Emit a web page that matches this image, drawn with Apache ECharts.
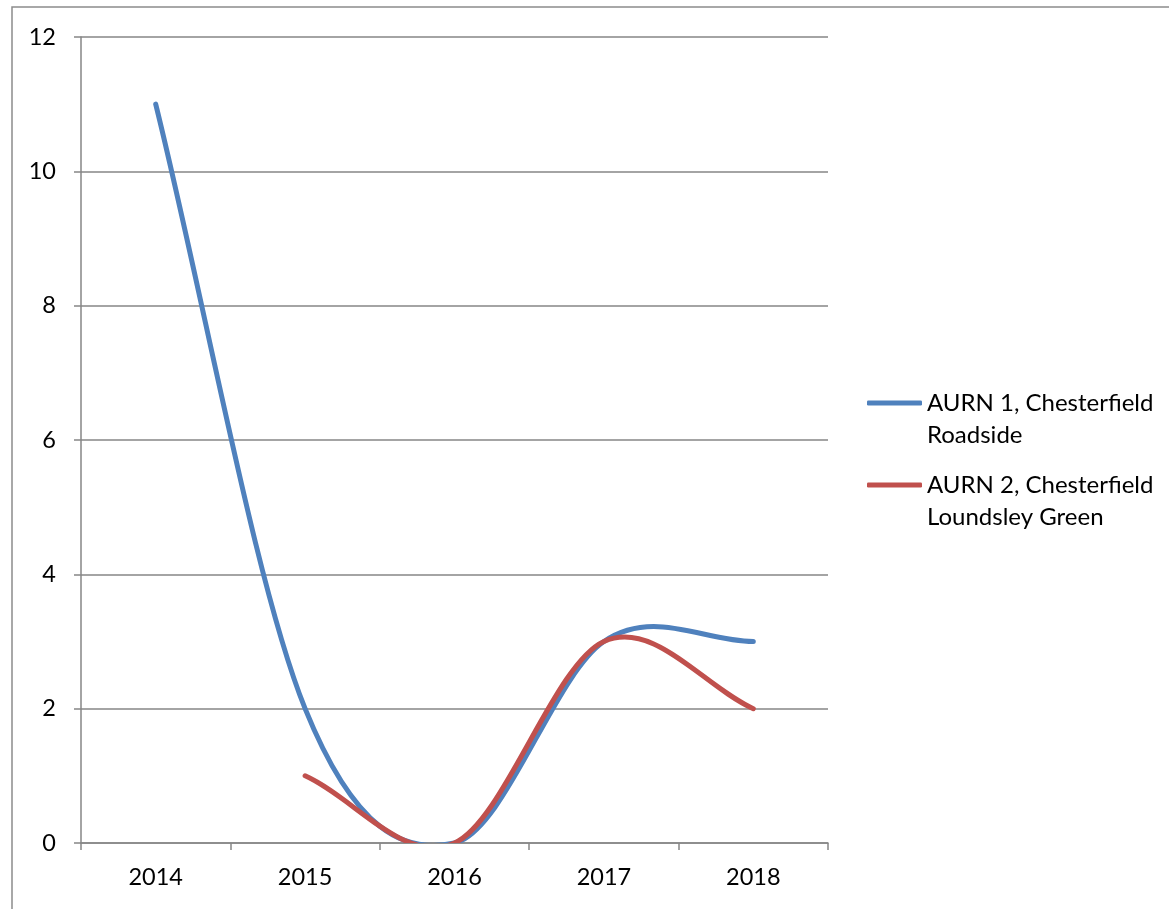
<!DOCTYPE html>
<html>
<head>
<meta charset="utf-8">
<script src="https://cdn.jsdelivr.net/npm/echarts@6/dist/echarts.min.js"></script>
<style>html,body{margin:0;padding:0;background:#fff}#c{width:1169px;height:909px}</style>
</head>
<body>
<div id="c"></div>
<script>
const years = ['2014', '2015', '2016', '2017', '2018'];
const aurn1 = [11, 2, 0, 3, 3];
const aurn2 = [null, 1, 0, 3, 2];
const name1 = 'AURN 1, Chesterfield\nRoadside';
const name2 = 'AURN 2, Chesterfield\nLoundsley Green';
const yTicks = { min: 0, max: 12, interval: 2 };

const font = 'Lato, "Liberation Sans", sans-serif';
const chart = echarts.init(document.getElementById('c'));

// Excel-style smoothed line (Catmull-Rom -> cubic Bezier) through the library's coordinate system
function smoothRenderer(values, color) {
  const valid = values.map((v, i) => v == null ? -1 : i).filter(i => i >= 0);
  return function (params, api) {
    if (params.dataIndex !== valid[0]) return null;
    const P = valid.map(i => api.coord([i, values[i]]));
    let d = 'M' + P[0][0] + ' ' + P[0][1];
    for (let k = 0; k < P.length - 1; k++) {
      const a = P[k], b = P[k + 1];
      let c1, c2;
      if (k > 0) { const p = P[k - 1]; c1 = [a[0] + (b[0] - p[0]) / 6, a[1] + (b[1] - p[1]) / 6]; }
      else { c1 = [a[0] + (b[0] - a[0]) / 3, a[1] + (b[1] - a[1]) / 3]; }
      if (k + 2 < P.length) { const n = P[k + 2]; c2 = [b[0] - (n[0] - a[0]) / 6, b[1] - (n[1] - a[1]) / 6]; }
      else { c2 = [b[0] - (b[0] - a[0]) / 3, b[1] - (b[1] - a[1]) / 3]; }
      d += ' C' + c1[0] + ' ' + c1[1] + ' ' + c2[0] + ' ' + c2[1] + ' ' + b[0] + ' ' + b[1];
    }
    const cs = params.coordSys;
    return {
      type: 'path', shape: { pathData: d },
      clipPath: { type: 'rect', shape: { x: cs.x - 20, y: cs.y - 20, width: cs.width + 40, height: cs.height + 20 } },
      style: { fill: 'none', stroke: color, lineWidth: 5, lineCap: 'round', lineJoin: 'round' }
    };
  };
}

const legendText = { fontFamily: font, fontSize: 24, color: '#000', lineHeight: 32 };
const legendBase = { orient: 'vertical', icon: 'roundRect', itemWidth: 55, itemHeight: 5, itemGap: 0, padding: 0,
  textStyle: legendText, formatter: n => '\n' + n };
chart.setOption({
  animation: false,
  graphic: [{
    type: 'rect', shape: { x: 12, y: 7, width: 1300, height: 1000 },
    style: { fill: 'none', stroke: '#8c8c8c', lineWidth: 1.5 }, silent: true
  }],
  grid: { left: 81, right: 341, top: 37, bottom: 66 },
  legend: [
    Object.assign({ data: [name1], left: 867, top: 355 }, legendBase),
    Object.assign({ data: [name2], left: 867, top: 437 }, legendBase)
  ],
  xAxis: {
    type: 'category', data: years, boundaryGap: true,
    axisLine: { lineStyle: { color: '#868686', width: 1.5 } },
    axisTick: { show: true, length: 7, lineStyle: { color: '#868686', width: 1.5 } },
    axisLabel: { color: '#000', fontFamily: font, fontSize: 23.5, margin: 22 }
  },
  yAxis: {
    type: 'value', min: yTicks.min, max: yTicks.max, interval: yTicks.interval,
    axisLine: { show: true, lineStyle: { color: '#868686', width: 1.5 } },
    axisTick: { show: true, length: 7, lineStyle: { color: '#868686', width: 1.5 } },
    splitLine: { lineStyle: { color: '#868686', width: 1.5 } },
    axisLabel: { color: '#000', fontFamily: font, fontSize: 23.5, margin: 25 }
  },
  series: [
    { name: name1, type: 'custom', data: years.map((y, i) => [i, aurn1[i]]), encode: { x: 0, y: 1 },
      renderItem: smoothRenderer(aurn1, '#4F81BD'), itemStyle: { color: '#4F81BD' } },
    { name: name2, type: 'custom', data: years.map((y, i) => [i, aurn2[i]]), encode: { x: 0, y: 1 },
      renderItem: smoothRenderer(aurn2, '#C0504D'), itemStyle: { color: '#C0504D' } }
  ]
});
</script>
</body>
</html>
